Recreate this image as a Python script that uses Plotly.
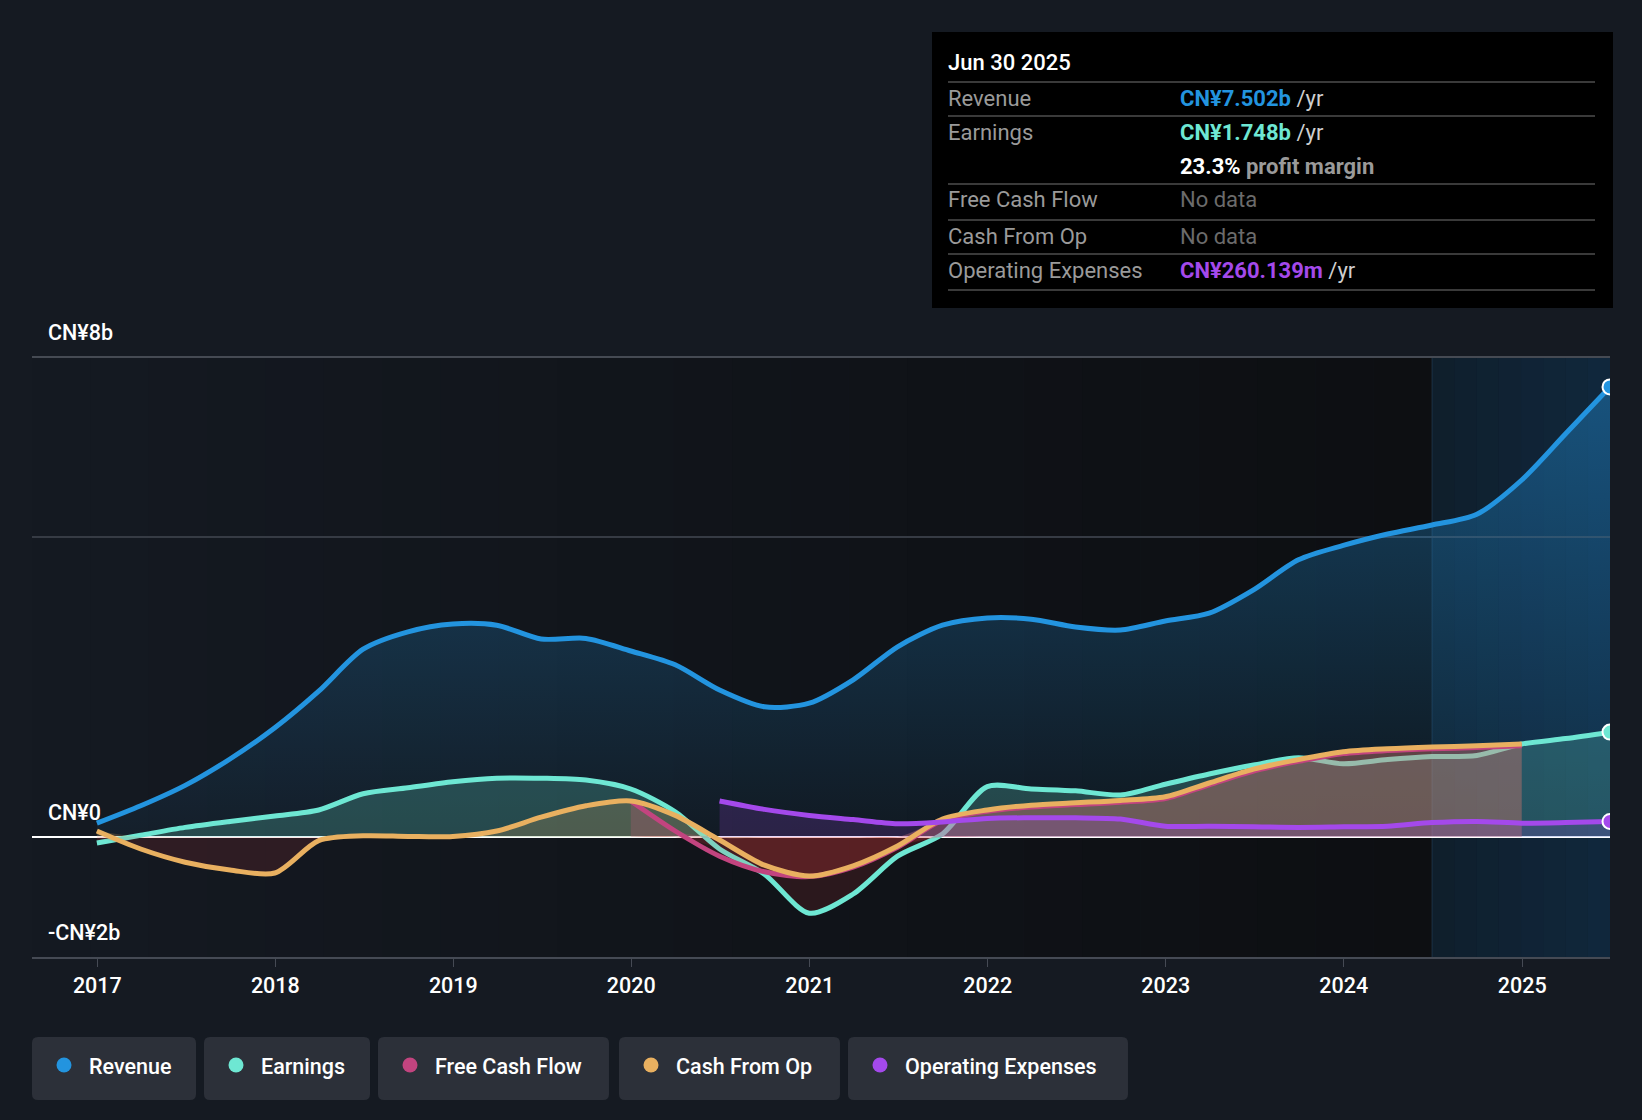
import numpy as np
import pandas as pd
import plotly.graph_objects as go

# ---- data (CN¥ billions, trailing twelve months) ----
QUARTERS = ['2016-12-31', '2017-03-31', '2017-06-30', '2017-09-30',
            '2017-12-31', '2018-03-31', '2018-06-30', '2018-09-30',
            '2018-12-31', '2019-03-31', '2019-06-30', '2019-09-30',
            '2019-12-31', '2020-03-31', '2020-06-30', '2020-09-30',
            '2020-12-31', '2021-03-31', '2021-06-30', '2021-09-30',
            '2021-12-31', '2022-03-31', '2022-06-30', '2022-09-30',
            '2022-12-31', '2023-03-31', '2023-06-30', '2023-09-30',
            '2023-12-31', '2024-03-31', '2024-06-30', '2024-09-30',
            '2024-12-31', '2025-03-31', '2025-06-30']

REVENUE = [0.23, 0.52, 0.86, 1.30, 1.82, 2.43, 3.13, 3.42, 3.55, 3.53,
           3.30, 3.31, 3.10, 2.87, 2.45, 2.17, 2.23, 2.62, 3.17, 3.53,
           3.65, 3.63, 3.50, 3.45, 3.60, 3.73, 4.12, 4.62, 4.86, 5.05,
           5.20, 5.38, 5.95, 6.72, 7.502]

EARNINGS = [-0.10, 0.03, 0.16, 0.26, 0.35, 0.45, 0.72, 0.82, 0.92, 0.98,
            0.98, 0.95, 0.80, 0.42, -0.20, -0.62, -1.27, -0.95, -0.32, 0.05,
            0.84, 0.80, 0.77, 0.70, 0.88, 1.05, 1.20, 1.32, 1.22, 1.29,
            1.34, 1.36, 1.55, 1.64, 1.748]

# Dec 2016 .. Dec 2024
CASH_FROM_OP = [0.10, -0.20, -0.42, -0.55, -0.60, -0.06, 0.02, 0.01, 0.01,
                0.10, 0.33, 0.52, 0.60, 0.36, -0.05, -0.47, -0.65, -0.48,
                -0.15, 0.30, 0.45, 0.53, 0.57, 0.61, 0.67, 0.90, 1.13, 1.29,
                1.42, 1.47, 1.50, 1.52, 1.55]

# Dec 2019 .. Dec 2024
FREE_CASH_FLOW = [0.60, 0.10, -0.32, -0.58, -0.66, -0.50, -0.17, 0.28, 0.43,
                  0.50, 0.54, 0.58, 0.64, 0.87, 1.10, 1.26, 1.39, 1.44, 1.47,
                  1.49, 1.52]

# Jun 2020 .. Jun 2025
OPERATING_EXPENSES = [0.60, 0.46, 0.36, 0.29, 0.22, 0.25, 0.31, 0.32, 0.32,
                      0.30, 0.18, 0.18, 0.17, 0.16, 0.17, 0.18, 0.24, 0.26,
                      0.23, 0.24, 0.26]

X_TICKS = ['2017-01-01', '2018-01-01', '2019-01-01', '2020-01-01', '2021-01-01',
           '2022-01-01', '2023-01-01', '2024-01-01', '2025-01-01']
X_TICK_LABELS = ['2017', '2018', '2019', '2020', '2021', '2022', '2023', '2024', '2025']

Y_LABELS = [(8, 'CN¥8b'), (0, 'CN¥0'), (-2, '-CN¥2b')]

TOOLTIP_DATE = 'Jun 30 2025'
TOOLTIP_ROWS = [
    ('Revenue', "<b><span style='color:#2394df'>CN¥7.502b</span></b> /yr"),
    ('Earnings', "<b><span style='color:#6ee7d3'>CN¥1.748b</span></b> /yr"),
    ('', "<b><span style='color:#ffffff'>23.3%</span> <span style='color:#9a9a9a'>profit margin</span></b>"),
    ('Free Cash Flow', "<span style='color:#6b6b6b'>No data</span>"),
    ('Cash From Op', "<span style='color:#6b6b6b'>No data</span>"),
    ('Operating Expenses', "<b><span style='color:#a449eb'>CN¥260.139m</span></b> /yr"),
]

LEGEND_NAMES = ['Revenue', 'Earnings', 'Free Cash Flow', 'Cash From Op', 'Operating Expenses']

# ---- style ----
PAGE_BG = '#151a22'
GRID_GREY = '#363b44'
TOP_GRID_GREY = '#454a53'
AXIS_GREY = '#454a54'
LEGEND_BG = '#2c3039'

REVENUE_COLOR = '#2394df'
EARNINGS_COLOR = '#6ee7d3'
FCF_COLOR = '#c2447f'
CFO_COLOR = '#e9b060'
OPEX_COLOR = '#a449eb'
LEGEND_COLORS = [REVENUE_COLOR, EARNINGS_COLOR, FCF_COLOR, CFO_COLOR, OPEX_COLOR]

NEG_FILL = 'rgba(230,60,60,0.13)'
LINE_WIDTH = 5
SMOOTH = 0.8
TEXT_SIZE = 21.5
TIP_SIZE = 22

W, H = 1642, 1120
PLOT_LEFT, PLOT_RIGHT = 32, 1610
PLOT_TOP, PLOT_BOTTOM = 357, 957
X_START, X_END = '2016-08-20', '2025-06-30'
FORECAST_START = '2024-06-30'


def px_x(x):
    return (x - PLOT_LEFT) / (PLOT_RIGHT - PLOT_LEFT)


def px_y(y):
    return (PLOT_BOTTOM - y) / (PLOT_BOTTOM - PLOT_TOP)


def rounded_box(x0, y0, x1, y1, r=6):
    def p(x, y):
        return f"{px_x(x):.5f},{px_y(y):.5f}"
    return (f"M {p(x0 + r, y0)} L {p(x1 - r, y0)} Q {p(x1, y0)} {p(x1, y0 + r)} "
            f"L {p(x1, y1 - r)} Q {p(x1, y1)} {p(x1 - r, y1)} "
            f"L {p(x0 + r, y1)} Q {p(x0, y1)} {p(x0, y1 - r)} "
            f"L {p(x0, y0 + r)} Q {p(x0, y0)} {p(x0 + r, y0)} Z")


def fill_trace(x, y, color):
    return go.Scatter(x=x, y=y, mode='lines', fill='tozeroy', fillcolor=color,
                      line=dict(width=0, shape='spline', smoothing=SMOOTH),
                      hoverinfo='skip', showlegend=False)


def line_trace(x, y, color):
    return go.Scatter(x=x, y=y, mode='lines',
                      line=dict(width=LINE_WIDTH, color=color, shape='spline', smoothing=SMOOTH),
                      hoverinfo='skip', showlegend=False)


def split_fills(x, values, pos_color):
    vals = np.array(values)
    return [fill_trace(x, np.maximum(vals, 0), pos_color),
            fill_trace(x, np.minimum(vals, 0), NEG_FILL)]


x_rev = QUARTERS
x_cfo = QUARTERS[:33]
x_fcf = QUARTERS[12:33]
x_opex = QUARTERS[14:]

fig = go.Figure()

# revenue area with vertical gradient
fig.add_trace(go.Scatter(
    x=x_rev, y=REVENUE, mode='lines', fill='tozeroy',
    fillgradient=dict(type='vertical', start=0, stop=8,
                      colorscale=[[0, 'rgba(35,148,223,0.05)'], [1, 'rgba(35,148,223,0.42)']]),
    line=dict(width=0, shape='spline', smoothing=SMOOTH),
    hoverinfo='skip', showlegend=False))

fig.add_traces(split_fills(x_rev, EARNINGS, 'rgba(110,231,211,0.22)'))
fig.add_trace(line_trace(x_rev, EARNINGS, EARNINGS_COLOR))

fig.add_traces(split_fills(x_fcf, FREE_CASH_FLOW, 'rgba(194,68,127,0.25)'))
fig.add_traces(split_fills(x_cfo, CASH_FROM_OP, 'rgba(233,176,96,0.20)'))
fig.add_trace(fill_trace(x_opex, OPERATING_EXPENSES, 'rgba(164,73,235,0.18)'))

fig.add_trace(line_trace(x_fcf, FREE_CASH_FLOW, FCF_COLOR))
fig.add_trace(line_trace(x_cfo, CASH_FROM_OP, CFO_COLOR))
fig.add_trace(line_trace(x_opex, OPERATING_EXPENSES, OPEX_COLOR))
fig.add_trace(line_trace(x_rev, REVENUE, REVENUE_COLOR))

# end-point markers (clipped by the plot edge)
for xs, ys, color in [(x_rev, REVENUE, REVENUE_COLOR), (x_rev, EARNINGS, EARNINGS_COLOR),
                      (x_opex, OPERATING_EXPENSES, OPEX_COLOR)]:
    fig.add_trace(go.Scatter(x=[xs[-1]], y=[ys[-1]], mode='markers',
                             marker=dict(size=15, color=color, line=dict(color='white', width=2)),
                             hoverinfo='skip', showlegend=False))

shapes = []
# plot background: horizontal gradient darkening towards the forecast band
steps = 24
edges = pd.date_range(X_START, FORECAST_START, periods=steps + 1)
c0, c1 = np.array([21, 26, 34]), np.array([13, 15, 18])
for i in range(steps):
    c = (c0 + (c1 - c0) * (i + 0.5) / steps).astype(int)
    shapes.append(dict(type='rect', xref='x', yref='y', layer='below',
                       x0=edges[i], x1=edges[i + 1], y0=-2, y1=8,
                       fillcolor=f'rgb({c[0]},{c[1]},{c[2]})', line=dict(width=0)))
shapes.append(dict(type='rect', xref='x', yref='y', layer='below',
                   x0=FORECAST_START, x1=X_END, y0=-2, y1=8,
                   fillcolor=f'rgb({c1[0]},{c1[1]},{c1[2]})', line=dict(width=0)))
band = pd.date_range(FORECAST_START, X_END, periods=9)
for i in range(8):
    a = 0.17 + 0.09 * i / 7
    shapes.append(dict(type='rect', xref='x', yref='y', layer='below',
                       x0=band[i], x1=band[i + 1], y0=-2, y1=8,
                       fillcolor=f'rgba(28,110,180,{a:.3f})', line=dict(width=0)))
shapes.append(dict(type='line', xref='x', yref='y', layer='below',
                   x0=FORECAST_START, x1=FORECAST_START, y0=-2, y1=8,
                   line=dict(color='rgba(70,130,180,0.25)', width=1)))
# top gridline (plotly skips the grid at the range edge)
shapes.append(dict(type='line', xref='paper', yref='paper', layer='above',
                   x0=0, x1=1, y0=px_y(PLOT_TOP), y1=px_y(PLOT_TOP),
                   line=dict(color=TOP_GRID_GREY, width=2)))

# tooltip box
shapes.append(dict(type='rect', xref='paper', yref='paper',
                   x0=px_x(932), x1=px_x(1613), y0=px_y(308), y1=px_y(32),
                   fillcolor='#000000', line=dict(width=0)))
for sy in [82, 116, 184, 220, 254, 290]:
    shapes.append(dict(type='line', xref='paper', yref='paper',
                       x0=px_x(948), x1=px_x(1595), y0=px_y(sy), y1=px_y(sy),
                       line=dict(color='#3a3a3a', width=2)))

annotations = []
annotations.append(dict(xref='paper', yref='paper', x=px_x(946), y=px_y(62),
                        xanchor='left', yanchor='middle', showarrow=False,
                        text=TOOLTIP_DATE, font=dict(size=TIP_SIZE, color='white', weight=500)))
row_y = [98, 132, 166, 200, 236, 270]
for (label, value), ry in zip(TOOLTIP_ROWS, row_y):
    if label:
        annotations.append(dict(xref='paper', yref='paper', x=px_x(946), y=px_y(ry),
                                xanchor='left', yanchor='middle', showarrow=False,
                                text=label, font=dict(size=TIP_SIZE, color='#9a9a9a')))
    annotations.append(dict(xref='paper', yref='paper', x=px_x(1178), y=px_y(ry),
                            xanchor='left', yanchor='middle', showarrow=False,
                            text=value, font=dict(size=TIP_SIZE, color='#cfcfcf')))

# y labels sit just above their line
for val, txt in Y_LABELS:
    annotations.append(dict(xref='paper', yref='y', x=px_x(46), y=val,
                            xanchor='left', yanchor='bottom', yshift=10, showarrow=False,
                            text=txt, font=dict(size=TEXT_SIZE, color='white', weight=500)))

# legend chips
chips = [(32, 196), (204, 370), (378, 609), (619, 840), (848, 1128)]
for (bx0, bx1), name, color in zip(chips, LEGEND_NAMES, LEGEND_COLORS):
    shapes.append(dict(type='path', xref='paper', yref='paper',
                       path=rounded_box(bx0, 1037, bx1, 1100),
                       fillcolor=LEGEND_BG, line=dict(width=0)))
    cx, cy = bx0 + 32, 1065
    shapes.append(dict(type='circle', xref='paper', yref='paper',
                       x0=px_x(cx - 7.5), x1=px_x(cx + 7.5), y0=px_y(cy + 7.5), y1=px_y(cy - 7.5),
                       fillcolor=color, line=dict(width=0)))
    annotations.append(dict(xref='paper', yref='paper', x=px_x(bx0 + 55), y=px_y(1066),
                            xanchor='left', yanchor='middle', showarrow=False,
                            text=name, font=dict(size=TEXT_SIZE, color='white', weight=500)))

fig.update_layout(
    width=W, height=H,
    paper_bgcolor=PAGE_BG, plot_bgcolor='rgba(0,0,0,0)',
    margin=dict(l=PLOT_LEFT, r=W - PLOT_RIGHT, t=PLOT_TOP, b=H - PLOT_BOTTOM),
    font=dict(family='Roboto', color='white', size=TEXT_SIZE),
    showlegend=False,
    hovermode=False,
    xaxis=dict(type='date', range=[X_START, X_END], tickvals=X_TICKS, ticktext=X_TICK_LABELS,
               showgrid=False, zeroline=False, showline=True, linecolor=AXIS_GREY, linewidth=2,
               ticks='outside', ticklen=8, tickwidth=1, tickcolor=AXIS_GREY,
               tickfont=dict(size=TEXT_SIZE, color='white', weight=500)),
    yaxis=dict(range=[-2, 8], tickvals=[5, 8], showticklabels=False,
               showgrid=True, gridcolor=GRID_GREY, gridwidth=1.5,
               zeroline=True, zerolinecolor='white', zerolinewidth=2, showline=False),
    shapes=shapes,
    annotations=annotations,
)

fig.write_html("out.html", config={'displayModeBar': False},
               post_script="document.body.style.margin='0';"
                           "document.body.style.background='" + PAGE_BG + "';")
